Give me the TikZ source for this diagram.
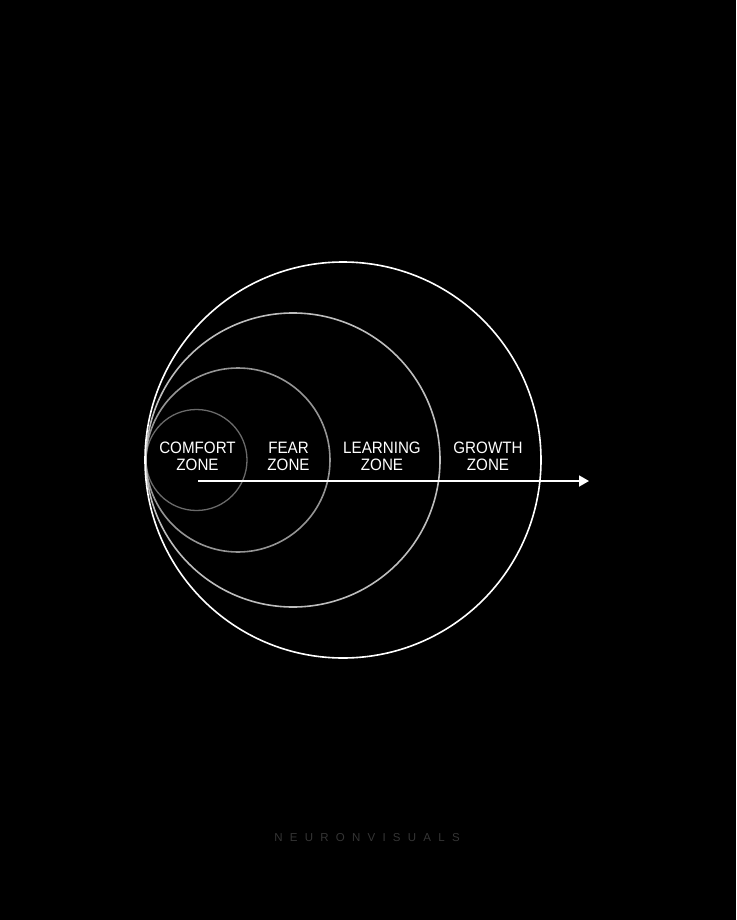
\documentclass[tikz,border=0pt]{standalone}
\usepackage{fontspec}
\setmainfont{Liberation Sans}
\newfontfamily\zonefont[FakeStretch=0.92]{Liberation Sans}
\newfontfamily\brandfont[LetterSpace=63]{Liberation Sans}
\usetikzlibrary{arrows.meta}
\definecolor{comfortgray}{HTML}{6A6A6A}
\definecolor{feargray}{HTML}{959595}
\definecolor{learninggray}{HTML}{BDBDBD}
\definecolor{brandgray}{HTML}{353535}
\tikzset{
    zone/.style={circle, draw, inner sep=0pt, line width=1.6pt},
    label/.style={anchor=center, text=white, align=center,
        font=\zonefont\fontsize{16.5}{17}\selectfont},
    arrow/.style={draw=white, line width=1.8pt, -{Triangle[length=10pt,width=11pt]}}
}
\begin{document}
\begin{tikzpicture}[x=1pt,y=-1pt]
            \fill[black] (0,0) rectangle (736,920);
            \useasboundingbox (0,0) rectangle (736,920);
            \node[zone, draw=comfortgray, line width=1.3pt, minimum size=101pt] (comfort) at (196.5,460) {};
            \node[zone, draw=feargray, minimum size=184pt] (fear) at (238,460) {};
            \node[zone, draw=learninggray, minimum size=294pt] (learning) at (293,460) {};
            \node[zone, draw=white, minimum size=396pt] (growth) at (343,460) {};
            \node[label] (a) at (197.5,456) {COMFORT\\ZONE};
            \node[label] (b) at (288.5,456) {FEAR\\ZONE};
            \node[label] (c) at (382,456) {LEARNING\\ZONE};
            \node[label] (d) at (488,456) {GROWTH\\ZONE};
            \coordinate (start) at (198,481);
            \coordinate (end) at (589,481);
            \draw[arrow] (start) -- (end);
            \node[anchor=center, text=brandgray, font=\brandfont\fontsize{11.5}{11.5}\selectfont] (brand) at (367,838) {NEURONVISUALS};
        \end{tikzpicture}
\end{document}
